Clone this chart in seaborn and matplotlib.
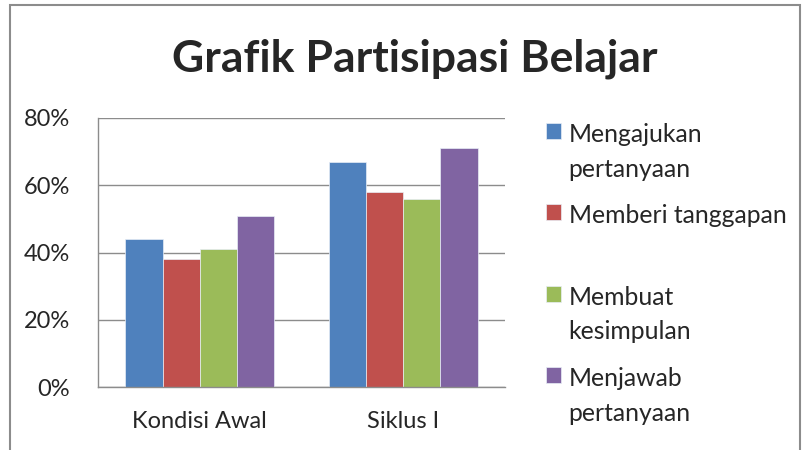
import pandas as pd
import seaborn as sns
import matplotlib.pyplot as plt
from matplotlib.patches import Rectangle
from matplotlib.ticker import PercentFormatter, FixedLocator

# data
kategori = ["Kondisi Awal", "Siklus I"]
seri = ["Mengajukan pertanyaan", "Memberi tanggapan", "Membuat kesimpulan", "Menjawab pertanyaan"]
label_legend = ["Mengajukan\npertanyaan", "Memberi tanggapan\n", "Membuat\nkesimpulan", "Menjawab\npertanyaan"]
mengajukan = [44, 67]
memberi = [38, 58]
membuat = [41, 56]
menjawab = [51, 71]
warna = ["#4F81BD", "#C0504D", "#9BBB59", "#8064A2"]

df = pd.DataFrame({
    "Kategori": kategori * 4,
    "Seri": [s for s in seri for _ in kategori],
    "Nilai": mengajukan + memberi + membuat + menjawab,
})

sns.set_style("white")
plt.rcParams["font.family"] = ["Lato", "DejaVu Sans"]

fig = plt.figure(figsize=(8.03, 4.5), dpi=100)
ax = fig.add_axes([98 / 803, 1 - 387 / 450, (505 - 98) / 803, (387 - 118) / 450])

sns.barplot(data=df, x="Kategori", y="Nilai", hue="Seri", palette=warna, saturation=1,
            width=0.73, ax=ax, edgecolor="#e8eef6", linewidth=0.5, legend=True)

ax.set_ylim(0, 80)
ax.set_xlim(-0.5, 1.5)
ax.yaxis.set_major_locator(FixedLocator([0, 20, 40, 60, 80]))
ax.yaxis.set_major_formatter(PercentFormatter(decimals=0))
ax.grid(axis="y", color="#8c8c8c", linewidth=1)
ax.set_axisbelow(True)
ax.set_xlabel("")
ax.set_ylabel("")
for s in ["top", "right"]:
    ax.spines[s].set_visible(False)
for s in ["left", "bottom"]:
    ax.spines[s].set_color("#8c8c8c")
    ax.spines[s].set_linewidth(1)

ax.set_xticks([0, 1])
ax.set_xticklabels(kategori)
ax.set_xticks([-0.5, 0.5, 1.5], minor=True)
ax.tick_params(axis="x", which="major", length=0, pad=17, labelsize=17)
ax.tick_params(axis="x", which="minor", length=8, width=1, color="#8c8c8c", direction="out")
ax.tick_params(axis="y", length=8, width=1, color="#8c8c8c", direction="out", labelsize=17, pad=12)

handles, _ = ax.get_legend_handles_labels()
leg = ax.legend(handles, label_legend, loc="upper left", bbox_to_anchor=(546 / 803, 1 - 123 / 450),
                bbox_transform=fig.transFigure, frameon=False, fontsize=17.8,
                handlelength=0.62, handleheight=0.62, handletextpad=0.3, labelspacing=0.95,
                borderaxespad=0, borderpad=0)
for t in leg.get_texts():
    t.set_linespacing(1.62)
for col in leg._legend_handle_box.get_children():
    for row in col.get_children():
        row.align = "top"

fig.suptitle("Grafik Partisipasi Belajar", x=415 / 803, y=1 - 59 / 450, va="center",
             fontsize=32, fontweight="bold")

fig.patches.append(Rectangle((10 / 803, -0.1), 790 / 803, 1.1 - 5 / 450, transform=fig.transFigure,
                             fill=False, edgecolor="#8c8c8c", linewidth=1.5))

fig.savefig("out.png", dpi=100)
